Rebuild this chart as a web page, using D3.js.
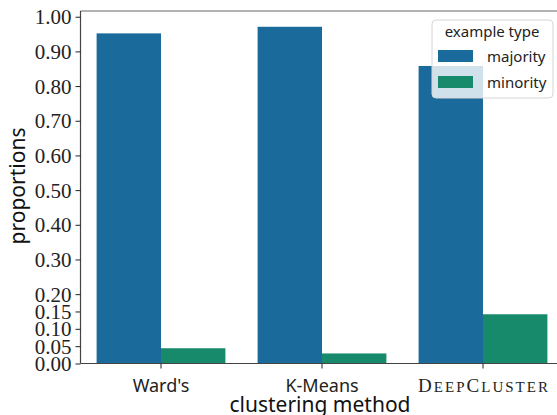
<!DOCTYPE html>
<html>
<head>
<meta charset="utf-8">
<script src="https://cdn.jsdelivr.net/npm/d3@7"></script>
<style>
  html, body { margin: 0; padding: 0; background: #fff; }
  svg { display: block; }
</style>
</head>
<body>
<svg id="chart" width="557" height="415"></svg>
<script>
// Share of majority / minority examples per clustering method
const methods = ["Ward's", "K-Means", "DeepCluster"];
const seriesNames = ["majority", "minority"];
const majority = [0.952, 0.971, 0.858];
const minority = [0.044, 0.029, 0.142];
const yTicks = [0, 0.05, 0.10, 0.15, 0.20, 0.30, 0.40, 0.50, 0.60, 0.70, 0.80, 0.90, 1.00];
const colors = ["#1a6b9b", "#178a6b"];

const rows = methods.map((m, i) => ({ method: m, values: [majority[i], minority[i]] }));

const svg = d3.select("#chart");
const plot = { left: 80.5, right: 563.5, top: 11, bottom: 363.5 };

const x = d3.scaleBand()
  .domain(methods)
  .range([plot.left, plot.right])
  .paddingInner(0.2)
  .paddingOuter(0.1);

const xInner = d3.scaleBand()
  .domain(seriesNames)
  .range([0, x.bandwidth()]);

const y = d3.scaleLinear()
  .domain([0, 1.0165])
  .range([plot.bottom, plot.top]);

// bars
const groups = svg.append("g")
  .selectAll("g")
  .data(rows)
  .join("g")
  .attr("transform", d => `translate(${x(d.method)},0)`);

groups.selectAll("rect")
  .data(d => d.values.map((v, k) => ({ key: seriesNames[k], value: v, k })))
  .join("rect")
  .attr("x", d => xInner(d.key))
  .attr("width", xInner.bandwidth())
  .attr("y", d => y(d.value))
  .attr("height", d => y(0) - y(d.value))
  .attr("fill", d => colors[d.k]);

// frame
svg.append("line")
  .attr("x1", plot.left).attr("x2", plot.right)
  .attr("y1", plot.top).attr("y2", plot.top)
  .attr("stroke", "#666").attr("stroke-width", 1.2);

// y axis
const yAxis = svg.append("g")
  .attr("transform", `translate(${plot.left},0)`)
  .call(d3.axisLeft(y).tickValues(yTicks).tickFormat(d3.format(".2f")).tickSize(5).tickPadding(4));
yAxis.select(".domain").attr("stroke", "#444").attr("stroke-width", 1.2)
  .attr("d", `M0,${plot.top}V${plot.bottom}`);
yAxis.selectAll(".tick line").attr("stroke", "#222");
yAxis.selectAll(".tick text")
  .attr("font-family", "'Liberation Serif', serif")
  .attr("font-size", 21)
  .attr("fill", "#222")
  .attr("dy", "0.34em");

// x axis
const xAxis = svg.append("g")
  .attr("transform", `translate(0,${plot.bottom})`)
  .call(d3.axisBottom(x).tickSize(5).tickPadding(6));
xAxis.select(".domain").attr("stroke", "#444").attr("stroke-width", 1.2)
  .attr("d", `M${plot.left},0H${plot.right}`);
xAxis.selectAll(".tick line").attr("stroke", "#222");
xAxis.selectAll(".tick text")
  .attr("font-family", "'Noto Sans', sans-serif")
  .attr("font-size", 18)
  .attr("fill", "#222")
  .attr("dy", "0.95em")
  .each(function (d) {
    if (d === "DeepCluster") {
      const t = d3.select(this).text(null)
        .attr("font-family", "'Liberation Serif', serif")
        .attr("textLength", 130)
        .attr("lengthAdjust", "spacing");
      [["D", 19], ["EEP", 15], ["C", 19], ["LUSTER", 15]].forEach(([s, fs]) =>
        t.append("tspan").attr("font-size", fs).text(s));
    }
  });

// axis titles
svg.append("text")
  .attr("x", (plot.left + 563.5) / 2 - 2)
  .attr("y", 412)
  .attr("text-anchor", "middle")
  .attr("font-family", "'Noto Sans', sans-serif")
  .attr("font-size", 21)
  .attr("fill", "#111")
  .text("clustering method");

svg.append("text")
  .attr("transform", "translate(25,186) rotate(-90)")
  .attr("text-anchor", "middle")
  .attr("font-family", "'Noto Sans', sans-serif")
  .attr("font-size", 21)
  .attr("fill", "#111")
  .text("proportions");

// legend
const legend = svg.append("g").attr("transform", "translate(432,20)");
legend.append("rect")
  .attr("width", 121).attr("height", 78).attr("rx", 4)
  .attr("fill", "#fff").attr("fill-opacity", 0.8)
  .attr("stroke", "#d6d6d6");
legend.append("text")
  .attr("x", 60).attr("y", 17)
  .attr("text-anchor", "middle")
  .attr("font-family", "'Noto Sans', sans-serif")
  .attr("font-size", 15)
  .attr("fill", "#222")
  .text("example type");
const items = legend.selectAll("g.item")
  .data(seriesNames)
  .join("g")
  .attr("class", "item")
  .attr("transform", (d, i) => `translate(6,${30 + i * 26})`);
items.append("rect")
  .attr("width", 35).attr("height", 12)
  .attr("fill", (d, i) => colors[i]);
items.append("text")
  .attr("x", 49).attr("y", 12)
  .attr("font-family", "'Noto Sans', sans-serif")
  .attr("font-size", 15)
  .attr("fill", "#222")
  .text(d => d);
</script>
</body>
</html>
